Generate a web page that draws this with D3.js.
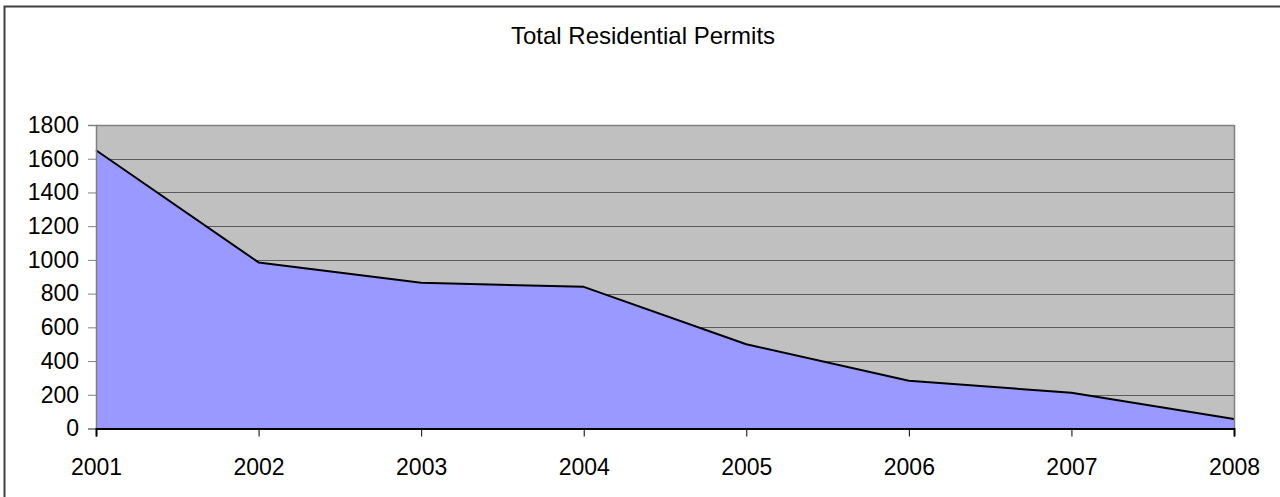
<!DOCTYPE html>
<html>
<head>
<meta charset="utf-8">
<script src="https://cdn.jsdelivr.net/npm/d3@7"></script>
<style>
  html, body { margin: 0; padding: 0; background: #fff; }
  svg { display: block; }
  text { font-family: "Liberation Sans", Arial, sans-serif; fill: #000; }
</style>
</head>
<body>
<script>
// Annual residential permit totals
const years = ["2001", "2002", "2003", "2004", "2005", "2006", "2007", "2008"];
const permits = [1650, 985, 865, 840, 500, 283, 212, 56];
const yTicks = [0, 200, 400, 600, 800, 1000, 1200, 1400, 1600, 1800];
const title = "Total Residential Permits";

const W = 1280, H = 497;
const plot = { left: 96, right: 1234, top: 125, bottom: 428.5 };

const svg = d3.select("body").append("svg").attr("width", W).attr("height", H);

// Outer chart frame
svg.append("rect")
  .attr("x", 4.5).attr("y", 6.5)
  .attr("width", W + 20).attr("height", H + 20)
  .attr("fill", "#fff").attr("stroke", "#404040").attr("stroke-width", 2);

const x = d3.scalePoint().domain(years).range([plot.left, plot.right]);
const y = d3.scaleLinear().domain([0, 1800]).range([plot.bottom, plot.top]);

// Plot background
svg.append("rect")
  .attr("x", plot.left).attr("y", plot.top)
  .attr("width", plot.right - plot.left).attr("height", plot.bottom - plot.top)
  .attr("fill", "#c0c0c0");

// Horizontal gridlines
svg.append("g").selectAll("line").data(yTicks.filter(d => d > 0)).join("line")
  .attr("x1", plot.left).attr("x2", plot.right)
  .attr("y1", d => Math.round(y(d)) + 0.5).attr("y2", d => Math.round(y(d)) + 0.5)
  .attr("stroke", "#5a5a5a").attr("stroke-width", 1);

const data = years.map((yr, i) => ({ yr, v: permits[i] }));

// Filled area
svg.append("path").datum(data)
  .attr("fill", "#9999ff")
  .attr("d", d3.area().x(d => x(d.yr)).y0(y(0)).y1(d => y(d.v)));

// Top edge of the area
svg.append("path").datum(data)
  .attr("fill", "none").attr("stroke", "#000").attr("stroke-width", 2)
  .attr("stroke-linejoin", "round")
  .attr("d", d3.line().x(d => x(d.yr)).y(d => y(d.v)));

// Right and top plot borders
svg.append("line")
  .attr("x1", plot.right + 0.5).attr("x2", plot.right + 0.5)
  .attr("y1", plot.top).attr("y2", plot.bottom)
  .attr("stroke", "#808080").attr("stroke-width", 1.5);
svg.append("line")
  .attr("x1", plot.left).attr("x2", plot.right)
  .attr("y1", plot.top + 0.5).attr("y2", plot.top + 0.5)
  .attr("stroke", "#808080").attr("stroke-width", 1.5);

// Y axis
const yAxis = svg.append("g")
  .attr("transform", `translate(${plot.left},0)`)
  .call(d3.axisLeft(y).tickValues(yTicks).tickSize(8).tickPadding(9).tickFormat(d3.format("d")));
yAxis.select(".domain").attr("stroke", "#808080").attr("stroke-width", 1.5);
yAxis.selectAll(".tick line").attr("stroke", "#808080");
yAxis.selectAll("text")
  .style("font-family", "'Liberation Sans', Arial, sans-serif")
  .style("font-size", "23px").attr("fill", "#000");

// X axis
const xAxis = svg.append("g")
  .attr("transform", `translate(0,${plot.bottom})`)
  .call(d3.axisBottom(x).tickSize(8).tickPadding(22));
xAxis.select(".domain").attr("stroke", "#000").attr("stroke-width", 2);
xAxis.selectAll(".tick line").attr("stroke", "#000");
xAxis.selectAll("text")
  .style("font-family", "'Liberation Sans', Arial, sans-serif")
  .style("font-size", "23px").attr("fill", "#000");

// Title
svg.append("text")
  .attr("x", 643).attr("y", 44)
  .attr("text-anchor", "middle")
  .style("font-size", "24px")
  .text(title);
</script>
</body>
</html>
